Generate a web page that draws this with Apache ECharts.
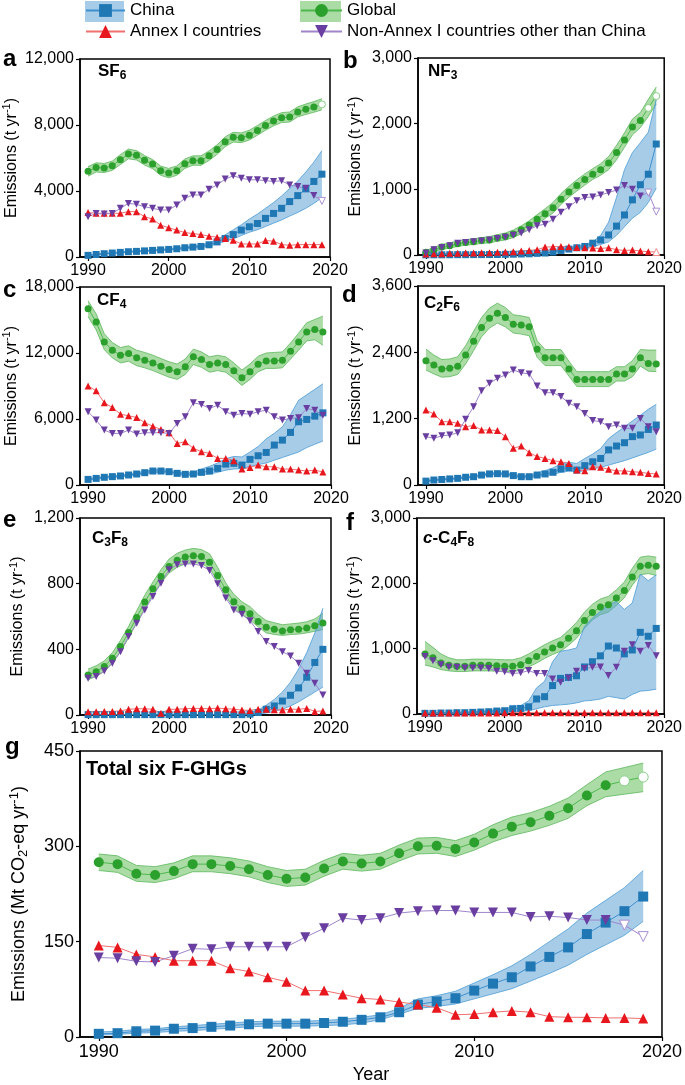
<!DOCTYPE html>
<html><head><meta charset="utf-8">
<script src="https://cdn.jsdelivr.net/npm/echarts@6/dist/echarts.min.js"></script>
<style>html,body{margin:0;padding:0;background:#fff}#c{width:685px;height:1085px}</style>
</head><body><div id="c"></div>
<script>
const years = [1990,1991,1992,1993,1994,1995,1996,1997,1998,1999,2000,2001,2002,2003,2004,2005,2006,2007,2008,2009,2010,2011,2012,2013,2014,2015,2016,2017,2018,2019];
const xTicks = [1990,2000,2010,2020];

// a: SF6
const yTicksA = [0,4000,8000,12000];
const chinaA   = [100,150,200,240,280,320,340,370,400,430,460,500,560,600,640,740,915,1120,1360,1630,1830,2030,2340,2640,2950,3360,3720,4130,4580,5020];
const chinaLoA = [90,135,180,215,250,290,305,335,360,385,415,450,500,540,575,650,800,950,1100,1300,1500,1650,1850,2050,2250,2480,2700,2950,3250,3600];
const chinaHiA = [110,165,220,265,310,350,375,405,440,475,505,550,620,665,720,850,1050,1350,1650,1950,2300,2600,2950,3300,3700,4150,4600,5150,5750,6450];
const globalA   = [5190,5430,5390,5530,5900,6240,6160,5860,5630,5230,5085,5230,5650,5840,5840,6140,6510,6980,7260,7220,7380,7670,7970,8240,8440,8480,8790,8950,9090,9250];
const globalLoA = [4900,5150,5120,5250,5600,5950,5880,5580,5350,4950,4800,4950,5370,5560,5560,5850,6220,6690,6970,6930,7090,7380,7680,7950,8150,8180,8490,8640,8770,8920];
const globalHiA = [5480,5710,5670,5810,6200,6540,6450,6150,5910,5510,5370,5520,5940,6130,6130,6430,6800,7280,7560,7520,7680,7970,8270,8540,8750,8790,9100,9270,9420,9590];
const annexA = [2690,2650,2650,2650,2650,2750,2750,2440,2300,1930,1770,1630,1480,1420,1360,1260,1200,1120,1020,790,790,790,1000,960,750,710,750,750,750,750];
const nonA   = [2440,2640,2600,2640,2950,3250,3190,3050,2950,2850,2850,3150,3560,3760,3760,4110,4370,4720,4920,4780,4680,4680,4620,4580,4620,4370,4270,4170,3720,3400];

// b: NF3
const yTicksB = [0,1000,2000,3000];
const chinaB   = [2,3,3,4,5,5,6,6,7,8,10,12,15,18,25,30,45,70,90,110,130,180,230,305,440,610,840,1070,1230,1690];
const chinaLoB = [1,2,2,3,4,4,5,5,6,7,8,10,12,15,20,25,35,55,70,85,100,130,160,200,300,430,560,650,800,1020];
const chinaHiB = [3,4,4,5,6,6,7,7,8,9,12,14,18,22,30,38,55,85,110,130,160,200,300,500,880,1300,1560,1710,1870,2370];
const globalB   = [40,80,120,140,170,190,200,220,230,260,280,320,385,455,545,630,720,850,960,1060,1150,1230,1300,1400,1560,1750,1950,2050,2240,2420];
const globalLoB = [20,50,85,105,130,150,160,175,185,210,230,265,325,390,475,555,640,770,880,975,1065,1150,1215,1300,1450,1640,1830,1940,2110,2300];
const globalHiB = [70,115,160,185,215,235,245,265,280,310,335,380,445,520,615,705,800,935,1045,1145,1235,1315,1390,1500,1670,1860,2070,2170,2370,2560];
const annexB = [15,20,20,25,25,30,30,35,35,40,45,50,60,70,80,120,125,130,125,115,110,105,100,110,80,70,75,60,50,45];
const nonB   = [30,80,115,140,180,190,200,215,230,250,270,300,335,385,445,470,545,650,735,825,875,885,915,950,990,1060,1000,900,950,660];

// c: CF4
const yTicksC = [0,6000,12000,18000];
const chinaC   = [510,600,700,760,820,910,1000,1120,1270,1270,1210,1060,970,1000,1150,1270,1510,1900,1970,1815,2330,2660,2960,3630,4080,4780,5750,5960,6260,6560];
const chinaLoC = [450,530,620,680,730,810,890,1000,1130,1130,1080,950,870,880,950,1000,1150,1350,1450,1500,1700,1850,2000,2250,2500,2750,3000,3400,3700,4000];
const chinaHiC = [570,670,780,840,910,1010,1110,1240,1410,1410,1350,1180,1080,1150,1450,1700,2000,2400,2600,2550,3000,3500,4200,4700,5300,6400,7700,8200,8700,9200];
const globalC   = [16030,14820,13010,12250,11800,11950,11560,11340,11100,10800,10500,10290,10740,11650,11400,10950,11100,10950,10380,9740,10290,10980,11280,11280,11340,12160,13010,13920,14130,13920];
const globalLoC = [15300,14100,12300,11550,11100,11250,10850,10650,10400,10100,9800,9600,10050,10950,10700,10250,10400,10250,9700,9050,9600,10300,10600,10600,10650,11450,12250,13100,13200,12700];
const globalHiC = [16750,15550,13750,12950,12500,12650,12250,12050,11800,11500,11200,11000,11450,12350,12100,11650,11800,11650,11100,10450,11000,11700,12000,12050,12100,12900,13800,14750,15050,15350];
const annexC = [9010,8560,7470,7050,6440,6290,6140,5660,5350,5050,4750,3780,3930,3330,3030,2870,2420,2420,2210,1450,1600,1815,1660,1660,1450,1450,1360,1270,1360,1180];
const nonC   = [6660,5900,4990,4690,4690,4990,4630,4750,4750,4750,4690,5600,6200,7470,7320,6960,7260,6660,6350,6500,6440,6660,6800,6200,5900,6050,6110,6960,6800,6350];

// d: C2F6
const yTicksD = [0,1200,2400,3600];
const chinaD   = [70,90,100,110,120,140,150,180,200,205,200,170,150,150,180,200,230,290,315,270,350,420,480,635,705,765,875,905,1005,1085];
const chinaLoD = [60,80,90,100,110,125,135,160,180,185,180,150,130,130,155,170,190,230,250,240,260,290,320,360,400,440,490,540,590,650];
const chinaHiD = [80,100,110,120,130,155,165,200,220,225,220,190,170,175,220,260,310,380,410,390,480,560,660,840,950,1050,1160,1260,1370,1460];
const globalD   = [2250,2170,2100,2110,2150,2350,2600,2850,3015,3105,3030,2910,2895,2865,2455,2300,2300,2300,2100,1910,1910,1910,1910,1910,2010,2010,2100,2300,2200,2190];
const globalLoD = [2080,2010,1950,1960,2000,2190,2430,2680,2840,2930,2860,2750,2730,2700,2310,2160,2160,2160,1970,1780,1780,1780,1780,1780,1880,1880,1960,2150,2060,2050];
const globalHiD = [2460,2350,2270,2280,2320,2520,2780,3030,3200,3290,3210,3080,3060,3030,2610,2450,2450,2450,2240,2050,2050,2050,2050,2050,2140,2140,2250,2450,2440,2440];
const annexD = [1355,1285,1145,1145,1115,1055,1075,995,995,985,875,665,705,585,515,480,440,420,390,270,260,330,320,285,255,255,240,230,210,200];
const nonD   = [875,845,890,905,945,1190,1415,1705,1840,1930,1990,2080,2030,2010,1790,1670,1670,1600,1480,1415,1295,1165,1145,1055,1085,1025,1025,1205,1055,965];

// e: C3F8
const yTicksE = [0,400,800,1200];
const chinaE   = [2,2,2,2,2,2,2,2,2,2,2,2,2,2,2,2,2,2,2,2,5,15,35,55,85,120,165,230,320,400];
const chinaLoE = [1,1,1,1,1,1,1,1,1,1,1,1,1,1,1,1,1,1,1,1,2,5,12,22,35,55,80,110,140,170];
const chinaHiE = [3,3,3,3,3,3,3,3,3,3,3,3,3,3,3,3,3,3,3,4,10,30,60,95,140,200,280,380,500,650];
const globalE   = [244,264,295,346,417,502,594,688,769,844,905,942,962,970,965,930,850,763,690,647,616,570,535,523,512,520,523,530,543,560];
const globalLoE = [215,235,265,315,385,470,560,650,730,805,865,900,920,930,922,895,815,725,652,610,580,537,500,490,485,490,493,500,510,520];
const globalHiE = [280,300,330,380,455,540,635,730,810,885,950,985,1005,1015,1008,982,900,805,735,690,660,612,575,562,550,555,560,568,585,620];
const annexE = [20,20,22,22,25,35,38,38,35,10,35,35,38,40,40,38,42,38,35,30,28,35,35,32,30,35,35,40,22,25];
const nonE   = [224,234,268,315,386,478,559,640,722,803,885,915,920,920,910,880,800,712,640,614,574,508,447,417,386,360,315,254,193,122];

// f: c-C4F8
const yTicksF = [0,1000,2000,3000];
const chinaF   = [10,10,15,15,20,20,25,30,35,45,50,80,85,110,230,265,435,545,560,585,720,800,890,1040,1010,920,980,1250,1190,1310];
const chinaLoF = [5,5,8,8,10,10,12,15,18,22,25,40,45,50,80,110,130,140,150,170,200,210,230,270,250,230,300,350,360,380];
const chinaHiF = [15,15,22,22,30,30,38,45,52,68,75,120,130,200,400,500,800,960,980,1010,1340,1470,1570,1670,1720,1600,1700,2140,2040,2130];
const globalF   = [920,860,780,745,730,730,745,745,745,740,730,730,755,815,880,950,1010,1060,1160,1275,1430,1555,1637,1673,1775,1892,2096,2260,2275,2260];
const globalLoF = [750,720,680,660,650,650,660,660,660,655,650,650,670,720,780,850,910,960,1050,1160,1310,1440,1520,1560,1660,1780,1970,2130,2150,2120];
const globalHiF = [1110,1020,920,860,830,830,840,840,840,835,830,830,860,920,990,1060,1120,1170,1280,1400,1560,1680,1760,1800,1900,2020,2230,2400,2420,2400];
const annexF = [15,15,15,15,15,15,15,15,15,15,20,20,20,20,20,20,20,20,20,20,20,20,20,20,20,20,20,20,20,20];
const nonF   = [880,815,755,720,715,705,705,705,695,655,645,620,630,665,620,620,535,485,550,655,695,715,720,590,715,960,1060,960,1050,890];

// g: Total six F-GHGs (Mt CO2-eq)
const yTicksG = [0,150,300,450];
const chinaG   = [5,6,9,10,13,14,16,18,20,21,21,21,22,24,27,31,39,51,56,61,73,84,94,111,126,141,162,180,198,221];
const chinaLoG = [3,4,6,7,9,10,12,14,16,17,17,17,18,19,22,27,36,45,48,52,60,68,76,88,100,113,130,145,160,182];
const chinaHiG = [8,9,12,13,16,18,20,22,24,25,25,25,26,28,31,35,45,60,65,72,85,98,112,130,150,170,195,215,235,262];
const globalG   = [275,272,257,255,261,272,272,269,264,255,249,251,265,276,273,276,289,300,301,296,306,320,331,338,348,360,380,396,403,409];
const globalLoG = [262,259,245,243,249,260,260,257,252,243,237,239,253,264,261,264,277,288,289,284,294,307,317,324,333,344,364,378,382,386];
const globalHiG = [288,285,270,268,274,285,285,282,277,268,262,264,278,289,286,289,302,313,314,309,319,334,346,353,363,376,397,417,424,431];
const annexG = [144,141,130,126,120,120,120,108,103,94,87,73,73,67,61,59,55,51,46,35,36,39,41,39,32,31,31,30,30,29];
const nonG   = [125,124,119,118,128,139,138,142,142,142,142,157,171,187,184,187,195,198,199,199,196,196,196,189,190,188,184,184,176,158];

const FONT = 'Liberation Sans, Arial, Helvetica, sans-serif';
const C = {
  blue:'#1f77b4', blueLine:'#3d8fcf', blueEdge:'#4b9cd6', blueFill:'rgba(95,162,214,0.55)',
  green:'#2ca02c', greenLine:'#4db84d', greenEdge:'#5cb85c', greenFill:'rgba(115,196,105,0.6)', greenHollow:'#86d086',
  red:'#e8161d', redLine:'#f07070', redHollow:'#f08a8a',
  purple:'#6a3ea1', purpleLine:'#9f85cc', purpleHollow:'#a990d6'
};
const NAMES = {china:'China', global:'Global', annex:'Annex I countries', non:'Non-Annex I countries other than China'};

const panels = [
  {g:{left:80, top:59, width:250, height:198}, ticks:yTicksA, cn:chinaA, cnLo:chinaLoA, cnHi:chinaHiA, gl:globalA, glLo:globalLoA, glHi:globalHiA, an:annexA, na:nonA, hollow:{gl:[2019], na:[2019], an:[]}},
  {g:{left:418, top:58, width:248, height:197}, ticks:yTicksB, cn:chinaB, cnLo:chinaLoB, cnHi:chinaHiB, gl:globalB, glLo:globalLoB, glHi:globalHiB, an:annexB, na:nonB, hollow:{gl:[2018,2019], na:[2018,2019], an:[2019]}},
  {g:{left:80, top:287, width:251, height:198}, ticks:yTicksC, cn:chinaC, cnLo:chinaLoC, cnHi:chinaHiC, gl:globalC, glLo:globalLoC, glHi:globalHiC, an:annexC, na:nonC, hollow:{gl:[], na:[], an:[]}},
  {g:{left:418, top:286, width:247, height:199}, ticks:yTicksD, cn:chinaD, cnLo:chinaLoD, cnHi:chinaHiD, gl:globalD, glLo:globalLoD, glHi:globalHiD, an:annexD, na:nonD, hollow:{gl:[], na:[], an:[]}},
  {g:{left:80, top:518, width:251, height:197}, ticks:yTicksE, cn:chinaE, cnLo:chinaLoE, cnHi:chinaHiE, gl:globalE, glLo:globalLoE, glHi:globalHiE, an:annexE, na:nonE, hollow:{gl:[], na:[], an:[]}},
  {g:{left:417, top:518, width:248, height:196}, ticks:yTicksF, cn:chinaF, cnLo:chinaLoF, cnHi:chinaHiF, gl:globalF, glLo:globalLoF, glHi:globalHiF, an:annexF, na:nonF, hollow:{gl:[], na:[], an:[]}},
  {g:{left:76, top:751, width:589, height:286}, ticks:yTicksG, cn:chinaG, cnLo:chinaLoG, cnHi:chinaHiG, gl:globalG, glLo:globalLoG, glHi:globalHiG, an:annexG, na:nonG, hollow:{gl:[2018,2019], na:[2018,2019], an:[]}, big:true}
];

const grids = [], xAxes = [], yAxes = [], series = [];

panels.forEach((p, i) => {
  const big = !!p.big;
  const fs = big ? 18 : 16;
  grids.push(Object.assign({show:true, borderColor:'#000', borderWidth:1.5, backgroundColor:'transparent'}, p.g));
  xAxes.push({
    type:'value', gridIndex:i, min:1989, max:2020,
    axisLine:{show:true, onZero:false, lineStyle:{color:'#000', width:1.5}},
    axisTick:{show:true, inside:false, length:4, customValues:xTicks, lineStyle:{color:'#000', width:1.2}},
    axisLabel:{show:true, customValues:xTicks, fontSize:fs, fontFamily:FONT, color:'#000', margin:6, formatter:v => String(v)},
    splitLine:{show:false},
    name: big ? 'Year' : '', nameLocation:'middle', nameGap:38,
    nameTextStyle:{fontSize:18, fontFamily:FONT, color:'#000', verticalAlign:'middle'}
  });
  const t = p.ticks;
  yAxes.push({
    type:'value', gridIndex:i, min:t[0], max:t[t.length-1], interval:t[1]-t[0],
    axisLine:{show:true, lineStyle:{color:'#000', width:1.5}},
    axisTick:{show:true, inside:false, length:4, lineStyle:{color:'#000', width:1.2}},
    axisLabel:{fontSize:fs, fontFamily:FONT, color:'#000', margin:6, formatter:v => v.toLocaleString('en-US')},
    splitLine:{show:false},
    name: big ? 'Emissions (Mt CO{sub|2}-eq yr{sup|-1})' : 'Emissions (t yr{sup|-1})',
    nameLocation:'middle', nameGap: big ? 61 : 62,
    nameTextStyle:{fontSize:fs, fontFamily:FONT, color:'#000', verticalAlign:'middle', lineHeight:fs+4,
      rich:{sub:{fontSize:fs-5, fontFamily:FONT, color:'#000', verticalAlign:'bottom', lineHeight:fs-6},
            sup:{fontSize:fs-5, fontFamily:FONT, color:'#000', verticalAlign:'top', lineHeight:fs-6}}}
  });
  const sz = big ? 10 : 7;
  // uncertainty band drawn as a polygon from lower/upper arrays through the axis scales
  const band = (lo, hi, edge, fill) => ({
    type:'custom', xAxisIndex:i, yAxisIndex:i, silent:true, z:1, clip:true, animation:false,
    encode:{x:0, y:[1,2]},
    data: years.map((y,k) => [y, lo[k], hi[k]]),
    renderItem: (params, api) => {
      if (params.dataIndex !== 0) return null;
      const n = params.dataInsideLength;
      const up = [], dn = [];
      for (let k = 0; k < n; k++) {
        up.push(api.coord([api.value(0,k), api.value(2,k)]));
        dn.push(api.coord([api.value(0,k), api.value(1,k)]));
      }
      return {type:'group', children:[
        {type:'polygon', shape:{points: up.concat(dn.slice().reverse())}, style:{fill:fill, stroke:null}},
        {type:'polyline', shape:{points: up}, style:{stroke:edge, lineWidth:0.8, fill:null}},
        {type:'polyline', shape:{points: dn}, style:{stroke:edge, lineWidth:0.8, fill:null}}
      ]};
    }
  });
  series.push(band(p.glLo, p.glHi, C.greenEdge, C.greenFill));
  series.push(band(p.cnLo, p.cnHi, C.blueEdge, C.blueFill));
  const mk = (name, arr, color, lineColor, hollowColor, symbol, rot, hollow) => ({
    type:'line', name, xAxisIndex:i, yAxisIndex:i,
    data: years.map((y,k) => hollow.includes(y)
      ? {value:[y, arr[k]], itemStyle:{color:'#fff', borderColor:hollowColor, borderWidth:1}}
      : [y, arr[k]]),
    symbol, symbolSize:sz, symbolRotate:rot, showSymbol:true,
    itemStyle:{color}, lineStyle:{color:lineColor, width:1}, z:3, animation:false
  });
  series.push(mk(NAMES.china, p.cn, C.blue, C.blueLine, C.blue, 'rect', 0, []));
  series.push(mk(NAMES.global, p.gl, C.green, C.greenLine, C.greenHollow, 'circle', 0, p.hollow.gl));
  series.push(mk(NAMES.annex, p.an, C.red, C.redLine, C.redHollow, 'triangle', 0, p.hollow.an));
  series.push(mk(NAMES.non, p.na, C.purple, C.purpleLine, C.purpleHollow, 'triangle', 180, p.hollow.na));
});

const letter = (txt, left, top) => ({text:txt, left, top, padding:0, textStyle:{fontSize:24, fontWeight:'bold', fontFamily:FONT, color:'#000'}});
const ttl = (txt, left, top, fs) => ({text:txt, left, top, padding:0,
  textStyle:{fontSize:fs, fontWeight:'bold', fontFamily:FONT, color:'#000', lineHeight:fs+4,
    rich:{sub:{fontSize:fs-5, fontWeight:'bold', fontFamily:FONT, color:'#000', verticalAlign:'bottom', lineHeight:fs-6},
          it:{fontSize:fs, fontWeight:'bold', fontStyle:'italic', fontFamily:FONT, color:'#000', lineHeight:fs+4}}}});

const titles = [
  letter('a', 3, 47), letter('b', 343, 49), letter('c', 3, 278), letter('d', 342, 283),
  letter('e', 3, 508), letter('f', 346, 511), letter('g', 5, 735),
  ttl('SF{sub|6}', 98, 61, 17), ttl('NF{sub|3}', 428, 61, 17), ttl('CF{sub|4}', 97, 290, 17),
  ttl('C{sub|2}F{sub|6}', 424, 293, 17), ttl('C{sub|3}F{sub|8}', 92, 528, 17), ttl('{it|c}-C{sub|4}F{sub|8}', 423, 528, 17),
  ttl('Total six F-GHGs', 86, 757, 20)
];

const legendText = {fontSize:17, fontFamily:FONT, color:'#000'};
const option = {
  animation:false,
  backgroundColor:'#fff',
  title: titles,
  legend:[
    {data:[NAMES.china, NAMES.annex], orient:'vertical', left:85, top:2, padding:0, itemWidth:39, itemHeight:16, itemGap:4, textStyle:legendText, selectedMode:false},
    {data:[NAMES.global, NAMES.non], orient:'vertical', left:300, top:2, padding:0, itemWidth:41, itemHeight:16, itemGap:4, textStyle:legendText, selectedMode:false}
  ],
  graphic:[
    {type:'rect', left:85, top:1, z:0, shape:{width:39, height:21}, style:{fill:C.blueFill}},
    {type:'rect', left:300, top:1, z:0, shape:{width:41, height:21}, style:{fill:C.greenFill}}
  ],
  grid:grids, xAxis:xAxes, yAxis:yAxes, series
};
const chart = echarts.init(document.getElementById('c'), null, {renderer:'canvas'});
chart.setOption(option);
</script></body></html>
